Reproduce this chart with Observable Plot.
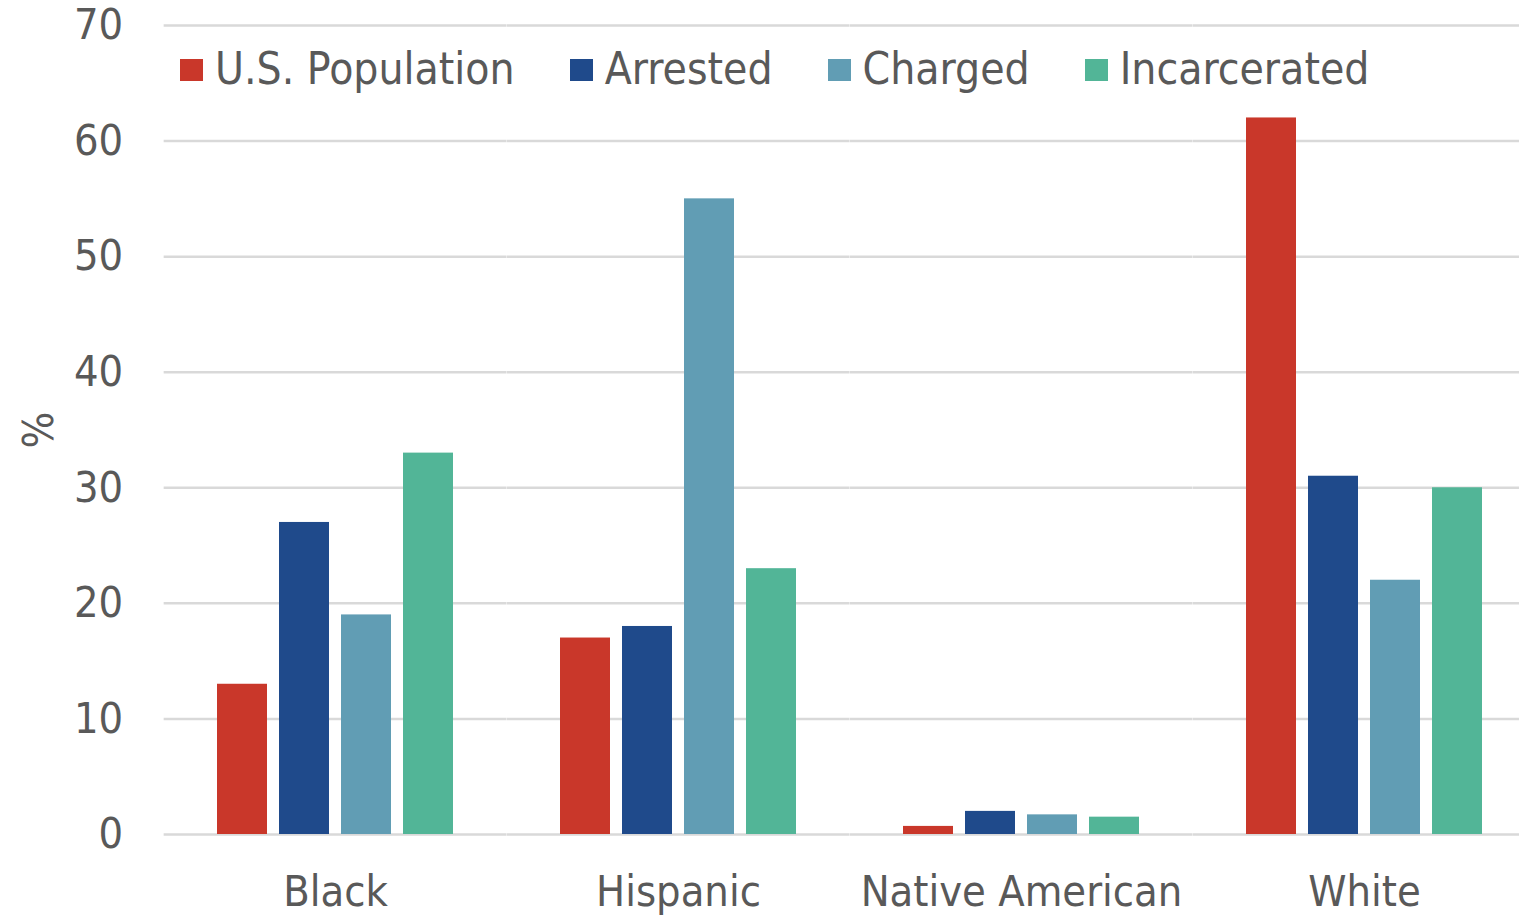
<!DOCTYPE html>
<html>
<head>
<meta charset="utf-8">
<script src="https://cdn.jsdelivr.net/npm/d3@7"></script>
<script src="https://cdn.jsdelivr.net/npm/@observablehq/plot@0.6"></script>
<style>
  html, body { margin: 0; padding: 0; background: #fff; overflow: hidden; }
  #chart { position: relative; width: 1519px; height: 915px; overflow: hidden; }
  #chart svg { max-width: none; }
  #legend {
    position: absolute; left: 180px; top: 43px;
    display: flex; align-items: center;
    font-family: "DejaVu Sans Condensed", "DejaVu Sans", sans-serif;
    font-size: 44px; color: #595959; white-space: nowrap;
  }
  #legend .item { display: flex; align-items: center; margin-right: 55px; }
  #legend .sw { width: 23px; height: 22px; margin-right: 12px; margin-top: 3px; }
</style>
</head>
<body>
<div id="chart"><div id="legend"></div></div>
<script>
// Share of each group in the U.S. population and at each stage of the justice system (%)
const categories = ["Black", "Hispanic", "Native American", "White"];
const series = ["U.S. Population", "Arrested", "Charged", "Incarcerated"];
const usPopulation = [13, 17, 0.7, 62];
const arrested = [27, 18, 2.0, 31];
const charged = [19, 55, 1.7, 22];
const incarcerated = [33, 23, 1.5, 30];
const colors = ["#c9372a", "#1f4a8b", "#619db4", "#52b597"];
const yTicks = [0, 10, 20, 30, 40, 50, 60, 70];

const seriesValues = [usPopulation, arrested, charged, incarcerated];
const data = [];
categories.forEach((category, i) => {
  series.forEach((s, j) => data.push({category, series: s, value: seriesValues[j][i]}));
});

const font = "\"DejaVu Sans Condensed\", \"DejaVu Sans\", sans-serif";

const width = 1536, marginLeft = 163, marginRight = 0;
const fxPaddingInner = 0.27;
const fxStep = (width - marginLeft - marginRight) / categories.length;
// half of the gap between facet groups, so the per-facet gridlines join up
const gridReach = fxStep * fxPaddingInner / 2;

const chart = Plot.plot({
  width,
  height: 915,
  marginLeft,
  marginRight,
  marginTop: 25,
  marginBottom: 81,
  style: {fontFamily: font, fontSize: "43px", color: "#595959", background: "#fff", maxWidth: "none"},
  fx: {domain: categories, paddingInner: fxPaddingInner, paddingOuter: fxPaddingInner / 2, label: null},
  x: {domain: series, paddingInner: 0.2, paddingOuter: 0.1, axis: null},
  y: {domain: [0, 70], label: null},
  color: {domain: series, range: colors},
  marks: [
    Plot.ruleY(yTicks, {stroke: "#d9d9d9", strokeWidth: 2.5, insetLeft: -gridReach, insetRight: -gridReach}),
    Plot.barY(data, {fx: "category", x: "series", y: "value", fill: "series"}),
    Plot.axisY({
      ticks: yTicks, tickSize: 0, tickPadding: 41 + gridReach, fill: "#595959",
      label: "%", labelAnchor: "center", labelOffset: 188, labelArrow: "none"
    }),
    Plot.axisFx({anchor: "bottom", tickSize: 0, tickPadding: 41, fill: "#595959", label: null})
  ]
});
chart.style.maxWidth = "none";
document.getElementById("chart").prepend(chart);

// Legend row drawn inside the top of the plot area
const legend = document.getElementById("legend");
series.forEach((s, j) => {
  const item = document.createElement("div");
  item.className = "item";
  const sw = document.createElement("div");
  sw.className = "sw";
  sw.style.background = colors[j];
  const label = document.createElement("span");
  label.textContent = s;
  item.append(sw, label);
  legend.append(item);
});
</script>
</body>
</html>
